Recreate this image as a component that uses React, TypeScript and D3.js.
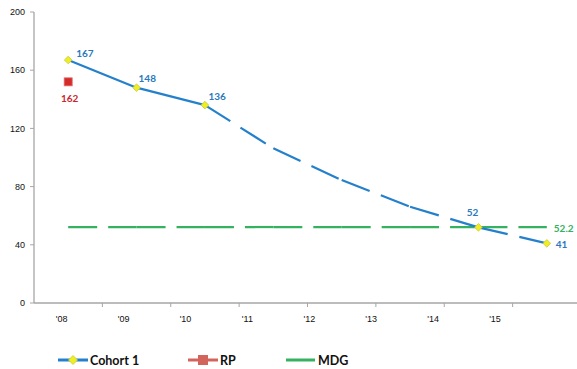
import React from "react";
import * as d3 from "d3";

const years = ["'08", "'09", "'10", "'11", "'12", "'13", "'14", "'15"];
const cohort1 = [167, 148, 136, 106.3, 84.5, 66.2, 52, 41];
const cohortMarker = [true, true, true, false, false, false, true, true];
const rpValue = 152;
const rpLabel = "162";
const mdgValue = 52.2;
const yTicks = [0, 40, 80, 120, 160, 200];

const W = 577;
const H = 369;
const BLUE = "#2580cc";
const GREEN = "#34b25f";
const RED = "#d42b2b";
const LABEL_BLUE = "#2a78bd";

const App = () => {
  const x = d3.scaleBand().domain(years).range([34, 581]).padding(0);
  const cx = (d: string) => (x(d) as number) + x.bandwidth() / 2;
  const y = d3.scaleLinear().domain([0, 200]).range([303, 12]);
  // the category labels sit closer together than the bands in the original
  const xLab = d3.scalePoint().domain(years).range([61.7, 495]);
  const line = d3.line<[number, number]>();

  const cohortPts: [number, number][] = years.map((d, i) => [cx(d), y(cohort1[i])]);
  const mdgPts: [number, number][] = years.map((d) => [cx(d), y(mdgValue)]);
  const segs = (pts: [number, number][]) => pts.slice(1).map((p, i) => [pts[i], p]);

  const diamond = (px: number, py: number, r: number, key: any) => (
    <path
      key={key}
      d={`M${px},${py - r}L${px + r},${py}L${px},${py + r}L${px - r},${py}Z`}
      fill="#eeee22"
      stroke="#c9c93a"
      strokeWidth={0.8}
    />
  );

  const labelOffsets: Record<number, [number, number, string]> = {
    0: [8, -3, "start"],
    1: [2, -6, "start"],
    2: [3.5, -5, "start"],
    6: [-6, -11.5, "middle"],
    7: [9, 4.5, "start"],
  };

  const labelFont = { fontFamily: "Lato, 'Open Sans', sans-serif", fontWeight: 700, fontSize: 10 };

  return (
    <svg width={W} height={H} style={{ position: "absolute", left: 0, top: 0, background: "#fff" }}>
      {/* axes */}
      <line x1={34} x2={W} y1={303} y2={303} stroke="#a6a6a6" strokeWidth={1.3} />
      <line x1={34} x2={34} y1={12} y2={303} stroke="#a6a6a6" strokeWidth={1.3} />
      {yTicks.map((t) => (
        <g key={t}>
          <line x1={30} x2={34} y1={y(t)} y2={y(t)} stroke="#a6a6a6" strokeWidth={1} />
          <text x={25} y={y(t) + 3.2} textAnchor="end" fontFamily="'Liberation Sans', Arial, sans-serif" fontSize={9} fill="#111">
            {t}
          </text>
        </g>
      ))}
      {years.map((d) => (
        <g key={d}>
          <line x1={(x(d) as number) + x.bandwidth()} x2={(x(d) as number) + x.bandwidth()} y1={303} y2={307} stroke="#a6a6a6" strokeWidth={1} />
          <text x={xLab(d)} y={321.5} textAnchor="middle" fontFamily="'Liberation Sans', Arial, sans-serif" fontSize={9} fill="#111">
            {d}
          </text>
        </g>
      ))}

      {/* MDG target */}
      {segs(mdgPts).map((s, i) => (
        <path key={"m" + i} d={line(s as [number, number][]) || ""} fill="none" stroke={GREEN} strokeWidth={2.2} strokeDasharray="29 11" />
      ))}

      {/* Cohort 1 */}
      {segs(cohortPts).map((s, i) => (
        <path
          key={"c" + i}
          d={line(s as [number, number][]) || ""}
          fill="none"
          stroke={BLUE}
          strokeWidth={2.2}
          strokeDasharray={i < 2 ? undefined : "30 12"}
        />
      ))}
      {cohortPts.map((p, i) => (cohortMarker[i] ? diamond(p[0], p[1], 3.8, "d" + i) : null))}

      {/* RP */}
      <rect x={cx(years[0]) - 4} y={y(rpValue) - 4} width={8} height={8} fill={RED} stroke="#e06a6a" strokeWidth={0.8} />

      {/* data labels */}
      {cohortPts.map((p, i) => {
        const o = labelOffsets[i];
        if (!o) return null;
        return (
          <text key={"l" + i} x={p[0] + o[0]} y={p[1] + o[1]} textAnchor={o[2] as any} fill={LABEL_BLUE} {...labelFont}>
            {cohort1[i]}
          </text>
        );
      })}
      <text x={cx(years[0]) + 1.5} y={y(rpValue) + 20} textAnchor="middle" fill="#c8282d" {...labelFont}>
        {rpLabel}
      </text>
      <text x={cx(years[7]) + 7} y={y(mdgValue) + 5} textAnchor="start" fill={GREEN} {...labelFont}>
        {mdgValue}
      </text>

      {/* legend */}
      <g fontFamily="Lato, 'Open Sans', sans-serif" fontWeight={700} fontSize={12.5} fill="#111">
        <line x1={58} x2={88} y1={360} y2={360} stroke={BLUE} strokeWidth={3} />
        {diamond(73, 360, 4.5, "ld")}
        <text x={90} y={364.5}>Cohort 1</text>
        <line x1={188} x2={218} y1={360} y2={360} stroke="#d2645c" strokeWidth={3} />
        <rect x={198} y={355} width={10} height={10} fill="#d2645c" />
        <text x={220} y={364.5}>RP</text>
        <line x1={286} x2={315} y1={360} y2={360} stroke={GREEN} strokeWidth={3} />
        <text x={318} y={364.5}>MDG</text>
      </g>
    </svg>
  );
};

export default App;
